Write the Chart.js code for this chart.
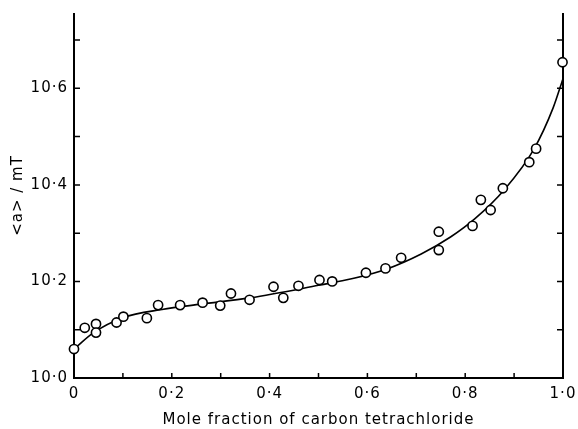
<!DOCTYPE html>
<html>
<head>
<meta charset="utf-8">
<script src="https://cdn.jsdelivr.net/npm/chart.js@4/dist/chart.umd.min.js"></script>
<style>
  html, body { margin: 0; padding: 0; background: #fff; }
  #wrap { width: 578px; height: 429px; }
</style>
</head>
<body>
<div id="wrap"><canvas id="Grafico_ESR"></canvas></div>
<script>
// measured points (mole fraction CCl4, <a> in mT)
const xPoints = [0, 0.022, 0.045, 0.045, 0.087, 0.101, 0.149, 0.172, 0.217, 0.263,
                 0.299, 0.321, 0.359, 0.408, 0.428, 0.459, 0.502, 0.528, 0.597, 0.637,
                 0.669, 0.746, 0.746, 0.815, 0.832, 0.852, 0.877, 0.931, 0.945, 0.999];
const yPoints = [10.060, 10.104, 10.112, 10.094, 10.115, 10.127, 10.124, 10.151, 10.151, 10.156,
                 10.150, 10.175, 10.162, 10.189, 10.166, 10.191, 10.203, 10.200, 10.218, 10.227,
                 10.249, 10.303, 10.265, 10.315, 10.369, 10.348, 10.393, 10.447, 10.475, 10.654];

// fitted curve
const xCurve = [0, 0.04, 0.1, 0.18, 0.26, 0.36, 0.5, 0.57, 0.64, 0.71, 0.77, 0.82, 0.88, 0.94, 0.98, 1.0];
const yCurve = [10.060, 10.094, 10.125, 10.142, 10.153, 10.166, 10.192, 10.206, 10.226, 10.257,
                10.292, 10.330, 10.390, 10.473, 10.56, 10.62];

const xTitle = "Mole fraction of carbon tetrachloride";
const yTitle = "<a> / mT";

const fontName = "'DejaVu Sans', sans-serif";

function dotLabel(v, isX) {
  if (isX && Math.abs(v) < 1e-9) return "0";
  return v.toFixed(1).replace(".", "\u00B7");
}

// axes drawn by hand so the ticks can point inwards
const frame = {
  id: "frame",
  beforeDraw(chart) {
    chart.ctx.letterSpacing = "1px";
  },
  beforeDatasetsDraw(chart) {
    const ctx = chart.ctx;
    ctx.letterSpacing = "0px";
    const a = chart.chartArea;
    const xs = chart.scales.x, ys = chart.scales.y;
    ctx.save();
    ctx.strokeStyle = "#000";
    ctx.lineWidth = 2;
    ctx.beginPath();
    ctx.moveTo(a.left, a.top);
    ctx.lineTo(a.left, a.bottom);
    ctx.lineTo(a.right, a.bottom);
    ctx.lineTo(a.right, a.top);
    ctx.stroke();
    ctx.lineWidth = 1.5;
    ctx.beginPath();
    xs.ticks.forEach(t => {
      if (t.value <= 0 || t.value >= 1) return;
      const px = xs.getPixelForValue(t.value);
      ctx.moveTo(px, a.bottom);
      ctx.lineTo(px, a.bottom - 5);
    });
    ys.ticks.forEach(t => {
      if (t.value <= 10.0001) return;
      const py = ys.getPixelForValue(t.value);
      ctx.moveTo(a.left, py);
      ctx.lineTo(a.left + 6, py);
      ctx.moveTo(a.right, py);
      ctx.lineTo(a.right - 6, py);
    });
    ctx.stroke();
    ctx.restore();
  }
};

new Chart("Grafico_ESR", {
  type: "scatter",
  data: {
    datasets: [
      {
        label: "fit",
        data: xCurve.map((x, i) => ({ x: x, y: yCurve[i] })),
        showLine: true,
        borderColor: "#000",
        borderWidth: 1.6,
        pointRadius: 0,
        cubicInterpolationMode: "monotone",
        clip: false,
        order: 2
      },
      {
        label: "points",
        data: xPoints.map((x, i) => ({ x: x, y: yPoints[i] })),
        pointRadius: 4.6,
        pointBorderWidth: 1.6,
        pointBorderColor: "#000",
        pointBackgroundColor: "#fff",
        clip: false,
        order: 1
      }
    ]
  },
  plugins: [frame],
  options: {
    responsive: true,
    maintainAspectRatio: false,
    animation: false,
    layout: { padding: { top: 13, right: 15, left: 0, bottom: 0 } },
    plugins: { legend: { display: false }, tooltip: { enabled: false } },
    scales: {
      x: {
        type: "linear",
        min: 0,
        max: 1,
        border: { display: false },
        grid: { display: false, drawTicks: false },
        ticks: {
          stepSize: 0.1,
          padding: 7,
          color: "#000",
          maxRotation: 0,
          autoSkip: false,
          font: { family: fontName, size: 15 },
          callback: v => (Math.round(v * 10) % 2 === 0 ? dotLabel(v, true) : "")
        },
        title: {
          display: true,
          text: xTitle,
          color: "#000",
          font: { family: fontName, size: 15 },
          padding: { top: 0, bottom: 0 }
        },
        afterFit: s => { s.height = 51; s.paddingLeft = 0; s.paddingRight = 0; }
      },
      y: {
        type: "linear",
        min: 10.0,
        max: 10.756,
        border: { display: false },
        grid: { display: false, drawTicks: false },
        ticks: {
          stepSize: 0.1,
          includeBounds: false,
          padding: 6,
          color: "#000",
          autoSkip: false,
          font: { family: fontName, size: 15 },
          callback: v => (Math.round(v * 10) % 2 === 0 ? dotLabel(v, false) : "")
        },
        title: {
          display: true,
          text: yTitle,
          color: "#000",
          font: { family: fontName, size: 15 },
          padding: { top: 9, bottom: 0 }
        },
        afterFit: s => { s.width = 74; s.paddingTop = 0; s.paddingBottom = 0; }
      }
    }
  }
});
</script>
</body>
</html>
